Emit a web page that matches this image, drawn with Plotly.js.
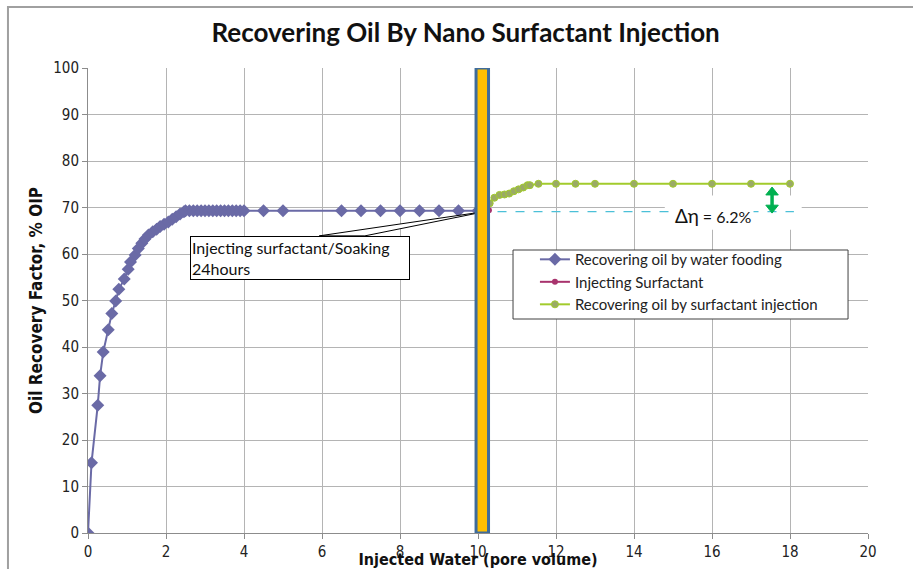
<!DOCTYPE html>
<html>
<head>
<meta charset="utf-8">
<script src="https://cdn.plot.ly/plotly-3.0.1.min.js"></script>
<style>html,body{margin:0;padding:0;background:#fff;}#chart{width:913px;height:569px;}</style>
</head>
<body>
<div id="chart"></div>
<script>
// ---- data ----
const waterX = [0, 0.09, 0.25, 0.31, 0.39, 0.52, 0.61, 0.71, 0.79, 0.93, 1.03, 1.09, 1.21, 1.29, 1.38, 1.46, 1.55, 1.66, 1.76, 1.85, 1.95, 2.06, 2.16, 2.26, 2.36, 2.46,
  2.5, 2.6, 2.7, 2.8, 2.9, 3.0, 3.1, 3.2, 3.3, 3.4, 3.5, 3.6, 3.7, 3.8, 3.9, 4.0, 4.5, 5.0, 6.5, 7.0, 7.5, 8.0, 8.5, 9.0, 9.5, 10.0];
const waterY = [0, 15.1, 27.5, 33.8, 38.9, 43.7, 47.2, 49.9, 52.4, 54.6, 56.7, 58.3, 59.8, 61.2, 62.3, 63.2, 64.1, 64.8, 65.3, 65.9, 66.4, 66.9, 67.5, 68.0, 68.6, 69.1,
  69.3, 69.3, 69.3, 69.3, 69.3, 69.3, 69.3, 69.3, 69.3, 69.3, 69.3, 69.3, 69.3, 69.3, 69.3, 69.3, 69.3, 69.3, 69.3, 69.3, 69.3, 69.3, 69.3, 69.3, 69.3, 69.3];
const injX = [10.0, 10.28];
const injY = [69.3, 69.4];
const surfX = [10.3, 10.42, 10.55, 10.68, 10.8, 10.92, 11.04, 11.16, 11.27, 11.33, 11.55, 12, 12.5, 13, 14, 15, 16, 17, 18];
const surfY = [70.9, 72.1, 72.7, 72.8, 73.0, 73.5, 73.9, 74.3, 74.8, 74.8, 75.1, 75.1, 75.1, 75.1, 75.1, 75.1, 75.1, 75.1, 75.1];
const seriesNames = ['Recovering oil by water fooding', 'Injecting Surfactant', 'Recovering oil by surfactant injection'];
const injectionPeriod = [9.95, 10.27];   // pore volume span of the soaking bar
const baseRecovery = 69.1;              // dashed reference level
const deltaArrow = {x: 17.54, top: 74.4, bottom: 68.8};
const deltaLabel = '<span style="font-size:19px">Δη</span> = 6.2%';
const calloutText = 'Injecting surfactant/Soaking<br>24hours';

const narrow = '"Liberation Sans Narrow", "DejaVu Sans Condensed", Arial, sans-serif';
const calib = 'Lato, "Open Sans", sans-serif';

const traces = [
  {x: waterX, y: waterY, name: seriesNames[0], type: 'scatter', mode: 'lines+markers',
   line: {color: '#6A6AA6', width: 2}, marker: {symbol: 'diamond', size: 10, color: '#6A6AA6'}},
  {x: injX, y: injY, name: seriesNames[1], type: 'scatter', mode: 'lines+markers',
   line: {color: '#A8336D', width: 2}, marker: {symbol: 'circle', size: 6, color: '#A8336D'}},
  {x: surfX, y: surfY, name: seriesNames[2], type: 'scatter', mode: 'lines+markers',
   line: {color: '#A2CB2C', width: 2}, marker: {symbol: 'circle', size: 7, color: '#9AAA66', line: {color: '#A2CB2C', width: 1}}}
];

const ax = deltaArrow.x, hw = 0.16, hh = 1.7;
const arrowPath = `M ${ax - hw} ${deltaArrow.top - hh} L ${ax} ${deltaArrow.top} L ${ax + hw} ${deltaArrow.top - hh} Z ` +
                  `M ${ax - hw} ${deltaArrow.bottom + hh} L ${ax} ${deltaArrow.bottom} L ${ax + hw} ${deltaArrow.bottom + hh} Z`;

const layout = {
  width: 913, height: 569,
  margin: {l: 88, r: 45, t: 68, b: 36},
  paper_bgcolor: '#ffffff', plot_bgcolor: '#ffffff',
  showlegend: true,
  title: {text: 'Recovering Oil By Nano Surfactant Injection', font: {family: calib, size: 26, color: '#111', weight: 'bold'},
          xref: 'container', x: 0.51, xanchor: 'center', yref: 'container', y: 0.942, yanchor: 'middle'},
  xaxis: {range: [0, 20], dtick: 2, tick0: 0, showgrid: true, gridcolor: '#B4B4B4', gridwidth: 1,
          showline: true, linecolor: '#8C8C8C', ticks: 'outside', ticklen: 5, tickcolor: '#8C8C8C',
          tickfont: {family: narrow, size: 15, color: '#222'}, zeroline: false,
          title: {text: 'Injected Water (pore volume)', font: {family: narrow, size: 16, color: '#111', weight: 'bold'}, standoff: 0}},
  yaxis: {range: [0, 100], dtick: 10, tick0: 0, showgrid: true, gridcolor: '#B4B4B4', gridwidth: 1,
          showline: true, linecolor: '#8C8C8C', ticks: 'outside', ticklen: 5, tickcolor: '#8C8C8C',
          tickfont: {family: narrow, size: 15, color: '#222'}, zeroline: false,
          title: {text: 'Oil Recovery Factor, % OIP', font: {family: narrow, size: 17, color: '#111', weight: 'bold'}, standoff: 6}},
  legend: {x: 0.573, y: 0.6235, xanchor: 'left', yanchor: 'top', bgcolor: 'rgba(0,0,0,0)', borderwidth: 0,
           font: {family: calib, size: 15, color: '#222'}, tracegroupgap: 0, itemwidth: 30},
  shapes: [
    // outer chart frame
    {type: 'rect', xref: 'paper', yref: 'paper', x0: -0.1026, x1: 1.3, y0: -0.3, y1: 1.1312, line: {color: '#A0A0A0', width: 2}, fillcolor: 'rgba(0,0,0,0)', layer: 'below'},
    // white box behind delta label (hides gridline)
    {type: 'rect', xref: 'x', yref: 'y', x0: 14.79, x1: 18.3, y0: 65.2, y1: 72.6, line: {width: 0}, fillcolor: '#ffffff', layer: 'between'},
    // dashed base recovery level
    {type: 'line', xref: 'x', yref: 'y', x0: 10.5, x1: 18.1, y0: baseRecovery, y1: baseRecovery, line: {color: '#4BC0D8', width: 1.3, dash: 'dash'}, layer: 'above'},
    // delta double arrow: shaft and heads
    {type: 'line', xref: 'x', yref: 'y', x0: ax, x1: ax, y0: deltaArrow.bottom + hh * 0.8, y1: deltaArrow.top - hh * 0.8, line: {color: '#00B050', width: 3.5}, layer: 'above'},
    {type: 'path', xref: 'x', yref: 'y', path: arrowPath, fillcolor: '#00B050', line: {color: '#00B050', width: 1}, layer: 'above'},
    // legend frame
    {type: 'rect', xref: 'paper', yref: 'paper', x0: 0.5449, x1: 0.9744, y0: 0.4602, y1: 0.6086, fillcolor: '#ffffff', line: {color: '#404040', width: 1}, layer: 'above'},
    // callout wedge
    {type: 'path', xref: 'x', yref: 'y', path: 'M 5.93 63.9 L 10.23 69.2 L 7.1 63.9 Z', fillcolor: '#ffffff', line: {color: '#000', width: 1}, layer: 'above'},
    // injection / soaking bar
    {type: 'rect', xref: 'x', yref: 'y', x0: injectionPeriod[0], x1: injectionPeriod[1], y0: 0, y1: 100, fillcolor: '#FFC000', line: {color: '#3F6C9B', width: 3}, layer: 'above'}
  ],
  annotations: [
    {xref: 'x', yref: 'y', x: 2.62, y: 63.9, xanchor: 'left', yanchor: 'top', text: calloutText, showarrow: false, align: 'left',
     width: 216, height: 40, valign: 'top', bgcolor: '#ffffff', bordercolor: '#000', borderwidth: 1, borderpad: 1,
     font: {family: calib, size: 16, color: '#111'}},
    {xref: 'x', yref: 'y', x: 15.0, y: 68.2, xanchor: 'left', yanchor: 'middle', text: deltaLabel, showarrow: false,
     bgcolor: '#ffffff', font: {family: calib, size: 16, color: '#111'}}
  ]
};

Plotly.newPlot('chart', traces, layout, {displayModeBar: false, staticPlot: true});
</script>
</body>
</html>
